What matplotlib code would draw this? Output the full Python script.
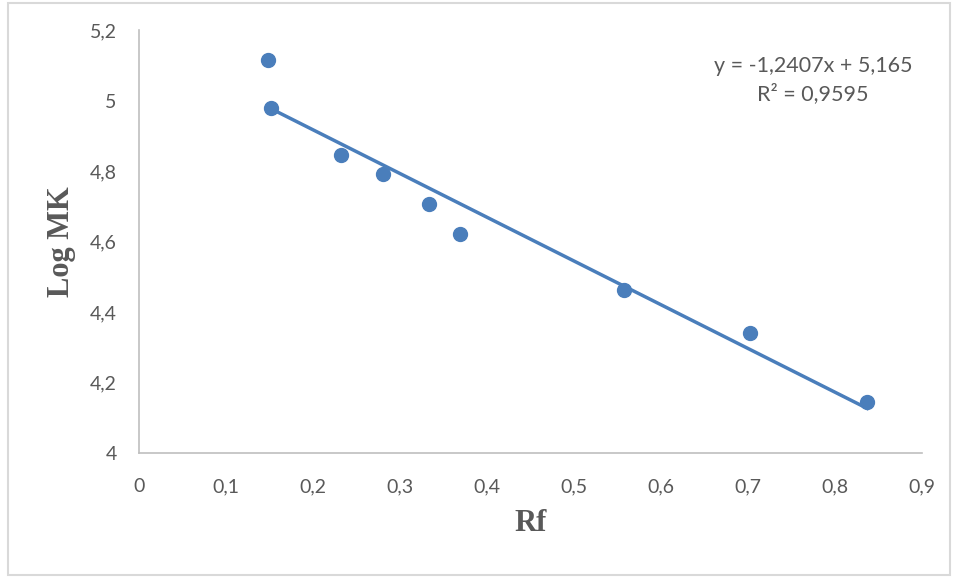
import matplotlib.pyplot as plt
from matplotlib.patches import Rectangle
from matplotlib.ticker import FuncFormatter
import numpy as np

# data
rf = [0.148, 0.152, 0.232, 0.280, 0.333, 0.369, 0.557, 0.702, 0.837]
log_mk = [5.115, 4.979, 4.845, 4.791, 4.706, 4.621, 4.462, 4.340, 4.145]
slope = -1.2407
intercept = 5.165
r2_text = "R² = 0,9595"
eq_text = "y = -1,2407x + 5,165"

blue = "#4A7EBB"
grey_text = "#595959"

fig = plt.figure(figsize=(9.59, 5.78), dpi=100)
fig.patches.append(Rectangle((8 / 959, 3 / 578), 942 / 959, 572 / 578,
                             transform=fig.transFigure, fill=False,
                             edgecolor="#D9D9D9", linewidth=1.5))

ax = fig.add_axes([139 / 959, 125 / 578, 783 / 959, 423 / 578])

ax.scatter(rf, log_mk, s=100, color=blue, zorder=3)

# linear trendline over the data range
xs = np.array([min(rf[1:]), max(rf)])
ax.plot(xs, slope * xs + intercept, color=blue, linewidth=2.5, zorder=2)

ax.set_xlim(0, 0.9)
ax.set_ylim(4, 5.2)
ax.set_xticks(np.arange(0, 0.91, 0.1))
ax.set_yticks(np.arange(4, 5.21, 0.2))


def comma_fmt(v, pos):
    s = f"{v:.1f}".rstrip("0").rstrip(".")
    return s.replace(".", ",")


ax.xaxis.set_major_formatter(FuncFormatter(comma_fmt))
ax.yaxis.set_major_formatter(FuncFormatter(comma_fmt))

for side in ["top", "right"]:
    ax.spines[side].set_visible(False)
for side in ["left", "bottom"]:
    ax.spines[side].set_color("#BFBFBF")
    ax.spines[side].set_linewidth(1.2)

ax.tick_params(length=0, labelsize=14, labelcolor=grey_text)
ax.tick_params(axis="x", pad=18)
ax.tick_params(axis="y", pad=16)
for lbl in ax.get_xticklabels() + ax.get_yticklabels():
    lbl.set_family("Lato")

ax.set_xlabel("Rf", fontsize=22, fontweight="bold", family="Liberation Serif",
              color=grey_text, labelpad=10)
ax.set_ylabel("Log MK", fontsize=22, fontweight="bold", family="Liberation Serif",
              color=grey_text, labelpad=10)

fig.text(813 / 959, 1 - 66 / 578, eq_text, ha="center", va="center",
         fontsize=15.5, family="Lato", color=grey_text)
fig.text(813 / 959, 1 - 94 / 578, r2_text, ha="center", va="center",
         fontsize=15.5, family="Lato", color=grey_text)

fig.savefig("out.png", dpi=100)
